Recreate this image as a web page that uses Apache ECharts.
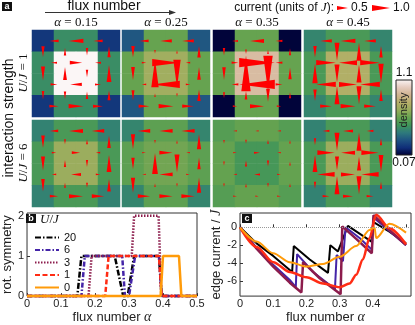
<!DOCTYPE html>
<html>
<head>
<meta charset="utf-8">
<script src="https://cdn.jsdelivr.net/npm/echarts@6/dist/echarts.min.js"></script>
<style>
html, body { margin: 0; padding: 0; background: #fff; }
#main { width: 415px; height: 325px; }
</style>
</head>
<body>
<div id="main"></div>
<script>
// ---- panel a: lattice densities (rows top -> bottom) ----
const alphaLabels = ['0.15', '0.25', '0.35', '0.45'];
const denA015U1 = [[0.2, 0.45, 0.45, 0.2], [0.45, 1.1, 1.1, 0.45], [0.45, 1.1, 1.1, 0.45], [0.2, 0.45, 0.45, 0.2]];
const denA025U1 = [[0.29, 0.585, 0.585, 0.29], [0.585, 0.72, 0.72, 0.585], [0.585, 0.72, 0.72, 0.585], [0.29, 0.585, 0.585, 0.29]];
const denA035U1 = [[0.08, 0.585, 0.585, 0.08], [0.585, 0.93, 0.93, 0.585], [0.585, 0.93, 0.93, 0.585], [0.08, 0.585, 0.585, 0.08]];
const denA045U1 = [[0.42, 0.51, 0.51, 0.42], [0.51, 0.77, 0.77, 0.51], [0.51, 0.77, 0.77, 0.51], [0.42, 0.51, 0.51, 0.42]];
const denA015U6 = [[0.41, 0.51, 0.51, 0.41], [0.51, 0.7, 0.7, 0.51], [0.51, 0.7, 0.7, 0.51], [0.41, 0.51, 0.51, 0.41]];
const denA025U6 = [[0.42, 0.56, 0.56, 0.42], [0.56, 0.61, 0.61, 0.56], [0.56, 0.61, 0.61, 0.56], [0.42, 0.56, 0.56, 0.42]];
const denA035U6 = [[0.54, 0.58, 0.58, 0.54], [0.58, 0.5, 0.5, 0.58], [0.58, 0.5, 0.5, 0.58], [0.54, 0.58, 0.58, 0.54]];
const denA045U6 = [[0.41, 0.51, 0.51, 0.41], [0.51, 0.7, 0.7, 0.51], [0.51, 0.7, 0.7, 0.51], [0.41, 0.51, 0.51, 0.41]];

// ---- panel a: bond currents, h: +right (4 rows x 3), v: +down (3 rows x 4) ----
const hA015U1 = [[-0.45, -0.8, -0.45], [-0.25, 0.65, -0.25], [0.3, -0.6, 0.25], [0.45, 0.8, 0.5]];
const vA015U1 = [[0.55, -0.35, 0.35, -0.55], [0.75, -0.7, 0.35, -0.95], [0.4, 0.35, -0.35, -0.5]];
const hA025U1 = [[-0.45, -0.6, -0.6], [0.15, 1.6, -0.15], [-0.15, -1.6, 0.15], [0.55, 0.8, 0.6]];
const vA025U1 = [[0.6, 0.1, -0.1, -0.6], [0.7, -1.6, 1.6, -0.65], [0.5, -0.1, 0.1, -0.6]];
const hA035U1 = [[-0.25, -0.75, -0.3], [0.3, 2.1, -0.3], [-0.3, -2.1, 0.3], [0.15, 0.75, 0.15]];
const vA035U1 = [[0.35, 0.15, -0.15, -0.3], [0.65, -2.1, 2.1, -0.6], [0.25, -0.4, 0.7, -0.25]];
const hA045U1 = [[-0.6, -0.8, -0.6], [1.1, -1.0, 1.1], [-1.1, 1.0, -1.1], [0.6, 0.8, 0.6]];
const vA045U1 = [[0.6, 1.0, -1.0, -0.6], [-1.1, 1.0, -1.0, 1.1], [0.6, -1.0, 1.0, -0.6]];
const hA015U6 = [[-0.4, -0.75, -0.65], [0.15, 0.4, -0.15], [-0.15, -0.5, 0.15], [0.4, 0.75, 0.65]];
const vA015U6 = [[0.65, 0.2, -0.2, -0.65], [0.75, -0.3, 0.3, -0.95], [0.65, -0.2, 0.2, -0.65]];
const hA025U6 = [[-0.65, -0.7, -0.7], [0.1, 0.7, -0.1], [-0.1, -0.7, 0.1], [0.65, 0.7, 0.7]];
const vA025U6 = [[0.8, 0.1, -0.1, -0.8], [0.6, -1.2, 1.0, -0.6], [0.8, -0.1, 0.1, -0.8]];
const hA035U6 = [[-0.12, -0.08, -0.12], [0.1, 0.25, -0.1], [-0.1, -0.25, 0.1], [0.12, 0.08, 0.12]];
const vA035U6 = [[0.1, 0.12, -0.12, -0.1], [0.12, -0.25, 0.25, -0.12], [0.1, -0.12, 0.12, -0.1]];
const hA045U6 = [[-0.3, -0.5, -0.3], [0.95, -0.75, 0.95], [-0.95, 0.75, -0.95], [0.3, 0.5, 0.3]];
const vA045U6 = [[0.3, 1.0, -1.0, -0.3], [-0.95, 0.75, -0.75, 0.95], [0.3, -1.0, 1.0, -0.3]];

// ---- panel b: rotational symmetry vs flux ----
const uNames = ['20', '6', '3', '1', '0'];
const symU20 = [[0, 0], [0.148, 0], [0.16, 1], [0.258, 1], [0.283, 0], [0.296, 0], [0.315, 1], [0.388, 1], [0.396, 0], [0.5, 0]];
const symU6 = [[0, 0], [0.16, 0], [0.17, 1], [0.28, 1], [0.288, 0], [0.3, 0], [0.318, 1], [0.388, 1], [0.396, 0], [0.5, 0]];
const symU3 = [[0, 0], [0.181, 0], [0.19, 1], [0.308, 1], [0.315, 2], [0.387, 2], [0.395, 0], [0.5, 0]];
const symU1 = [[0, 0], [0.23, 0], [0.24, 1], [0.388, 1], [0.396, 0], [0.5, 0]];
const symU0 = [[0, 0], [0.393, 0], [0.4, 1], [0.447, 1], [0.454, 0], [0.5, 0]];

// ---- panel c: edge current vs flux ----
const curU20 = [[0, 0], [0.05, -1.8], [0.1, -3.2], [0.157, -5.0], [0.162, -2.1], [0.21, -3.6], [0.265, -5.1], [0.272, -2.0], [0.295, -2.7], [0.325, 0.15], [0.36, -0.7], [0.396, -1.6], [0.401, 0.6], [0.45, -0.5], [0.5, -1.8]];
const curU6 = [[0, 0], [0.05, -2.3], [0.1, -4.2], [0.15, -5.9], [0.168, -6.7], [0.172, -3.0], [0.22, -5.0], [0.286, -6.9], [0.291, -3.1], [0.31, -3.8], [0.318, 0.0], [0.36, -1.2], [0.397, -2.5], [0.402, 1.1], [0.45, -0.4], [0.5, -2.0]];
const curU3 = [[0, 0], [0.05, -2.4], [0.1, -4.4], [0.15, -6.2], [0.185, -7.3], [0.19, -3.9], [0.24, -5.7], [0.303, -7.5], [0.308, 0.1], [0.35, -1.3], [0.397, -2.9], [0.402, 1.35], [0.45, -0.3], [0.5, -2.0]];
const curU1 = [[0, 0], [0.05, -2.2], [0.1, -3.9], [0.15, -5.0], [0.2, -5.6], [0.25, -6.3], [0.3, -6.7], [0.33, -6.3], [0.35, -5.3], [0.37, -3.6], [0.39, -1.2], [0.41, 1.4], [0.45, -0.1], [0.5, -1.9]];
const curU0 = [[0, 0], [0.05, -1.6], [0.1, -2.9], [0.15, -3.9], [0.2, -4.4], [0.25, -4.1], [0.3, -3.3], [0.35, -2.1], [0.39, -0.3], [0.405, 0.0], [0.41, -1.2], [0.45, 0.4], [0.5, -0.6]];

const sans = 'Liberation Sans';
const serif = 'Liberation Serif';
const cmap = ['#000033', '#0f2d78', '#1e5282', '#2e7a7c', '#3f955a', '#66a350', '#97ad5c', '#b8b06a', '#d0b492', '#e6ccc0', '#fbf6f6'];
const lineColors = ['#000000', '#4424a8', '#8c1c4c', '#ff2c14', '#ff9b0a'];
const dashes = [[6, 2, 1.5, 2], [5, 2, 1.5, 2], [1.5, 1.5], [5, 2.5], 'solid'];
const curWidths = [2, 2, 2.5, 2.5, 2];
const tri = 'path://M0,0L20,5L0,10Z';

const panelLeft = [32, 122, 213, 304];
const panelTop = [30, 120];
const cells = ['0', '1', '2', '3'];
const panels = [
  { den: denA015U1, h: hA015U1, v: vA015U1 },
  { den: denA025U1, h: hA025U1, v: vA025U1 },
  { den: denA035U1, h: hA035U1, v: vA035U1 },
  { den: denA045U1, h: hA045U1, v: vA045U1 },
  { den: denA015U6, h: hA015U6, v: vA015U6 },
  { den: denA025U6, h: hA025U6, v: vA025U6 },
  { den: denA035U6, h: hA035U6, v: vA035U6 },
  { den: denA045U6, h: hA045U6, v: vA045U6 }
];

function arrow(x, y, m, rot) {
  const a = Math.abs(m);
  return { value: [x, y], symbolSize: [2 + 16 * a, 1 + 4 * a], symbolRotate: rot };
}

const grids = [], xAxes = [], yAxes = [], series = [], heatIdx = [];
panels.forEach((p, i) => {
  const r = Math.floor(i / 4), c = i % 4;
  const g = { left: panelLeft[c], top: panelTop[r], width: 88, height: 87 };
  grids.push(Object.assign({}, g), Object.assign({}, g));
  xAxes.push({ type: 'category', data: cells, gridIndex: 2 * i, show: false });
  yAxes.push({ type: 'category', data: cells, gridIndex: 2 * i, inverse: true, show: false });
  xAxes.push({ type: 'value', min: 0, max: 4, gridIndex: 2 * i + 1, show: false });
  yAxes.push({ type: 'value', min: 0, max: 4, inverse: true, gridIndex: 2 * i + 1, show: false });
  const hd = [];
  p.den.forEach((row, y) => row.forEach((d, x) => hd.push([x, y, d])));
  heatIdx.push(series.length);
  series.push({ type: 'heatmap', xAxisIndex: 2 * i, yAxisIndex: 2 * i, data: hd, silent: true, itemStyle: { borderWidth: 0 } });
  const ad = [];
  p.h.forEach((row, y) => row.forEach((m, x) => ad.push(arrow(x + 1, y + 0.5, m, m > 0 ? 0 : 180))));
  p.v.forEach((row, y) => row.forEach((m, x) => ad.push(arrow(x + 0.5, y + 1, m, m > 0 ? -90 : 90))));
  series.push({ type: 'scatter', xAxisIndex: 2 * i + 1, yAxisIndex: 2 * i + 1, symbol: tri, data: ad, silent: true, z: 5, itemStyle: { color: '#ff0000', opacity: 1 } });
});

// panel b and c grids
grids.push({ left: 25, top: 213, width: 172, height: 89, show: true, borderColor: '#333', borderWidth: 1 });
grids.push({ left: 240, top: 213, width: 171, height: 89, show: true, borderColor: '#333', borderWidth: 1 });
const axisText = { fontFamily: sans, fontSize: 11, color: '#222' };
xAxes.push({
  type: 'value', gridIndex: 16, min: 0, max: 0.5, interval: 0.1,
  axisLine: { show: false }, splitLine: { show: false },
  axisTick: { inside: true, length: 3, lineStyle: { color: '#333' } },
  axisLabel: Object.assign({ margin: 2 }, axisText),
  name: 'flux number {i|α}', nameLocation: 'middle', nameGap: 9,
  nameTextStyle: { fontFamily: sans, fontSize: 13, color: '#222', rich: { i: { fontFamily: serif, fontStyle: 'italic', fontSize: 14 } } }
});
yAxes.push({
  type: 'value', gridIndex: 16, min: 0, max: 2.07,
  axisLine: { show: false }, splitLine: { show: false },
  axisTick: { inside: true, length: 3, customValues: [0, 1, 2], lineStyle: { color: '#333' } },
  axisLabel: Object.assign({ margin: 3, customValues: [0, 1, 2] }, axisText),
  name: 'rot. symmetry', nameLocation: 'middle', nameGap: 10,
  nameTextStyle: { fontFamily: sans, fontSize: 13, color: '#222' }
});
xAxes.push({
  type: 'value', gridIndex: 17, min: 0, max: 0.515,
  axisLine: { show: false }, splitLine: { show: false },
  axisTick: { inside: true, length: 3, customValues: [0, 0.1, 0.2, 0.3, 0.4, 0.5], lineStyle: { color: '#333' } },
  axisLabel: Object.assign({ margin: 2, customValues: [0, 0.1, 0.2, 0.3, 0.4] }, axisText),
  name: 'flux number {i|α}', nameLocation: 'middle', nameGap: 9,
  nameTextStyle: { fontFamily: sans, fontSize: 13, color: '#222', rich: { i: { fontFamily: serif, fontStyle: 'italic', fontSize: 14 } } }
});
yAxes.push({
  type: 'value', gridIndex: 17, min: -7.7, max: 1.6,
  axisLine: { show: false }, splitLine: { show: false },
  axisTick: { inside: true, length: 3, customValues: [-6, -4, -2, 0], lineStyle: { color: '#333' } },
  axisLabel: Object.assign({ margin: 3, customValues: [-6, -4, -2, 0] }, axisText),
  name: 'edge current / {i|J}', nameLocation: 'middle', nameGap: 14,
  nameTextStyle: { fontFamily: sans, fontSize: 13, color: '#222', rich: { i: { fontFamily: serif, fontStyle: 'italic', fontSize: 14 } } }
});

const symData = [symU20, symU6, symU3, symU1, symU0];
const curData = [curU20, curU6, curU3, curU1, curU0];
uNames.forEach((n, k) => {
  series.push({
    type: 'line', name: n, xAxisIndex: 16, yAxisIndex: 16, data: symData[k],
    symbol: 'none', clip: false, silent: true,
    lineStyle: { color: lineColors[k], width: 2.5, type: dashes[k] },
    itemStyle: { color: lineColors[k] }
  });
});
uNames.forEach((n, k) => {
  const s = {
    type: 'line', name: n, xAxisIndex: 17, yAxisIndex: 17, data: curData[k],
    symbol: 'none', silent: true,
    lineStyle: { color: lineColors[k], width: curWidths[k] },
    itemStyle: { color: lineColors[k] }
  };
  if (k >= 3) { s.smooth = 0.3; s.smoothMonotone = 'x'; }
  if (k === 0) {
    s.markLine = {
      silent: true, symbol: ['none', 'none'], label: { show: false },
      lineStyle: { color: '#999', type: 'dotted', width: 1 },
      data: [{ yAxis: 0 }]
    };
  }
  series.push(s);
});

// text / decoration
const g = [];
function box(x, y, t) {
  g.push({ type: 'rect', shape: { x: x, y: y, width: 10, height: 9 }, style: { fill: '#111' } });
  g.push({ type: 'text', x: x + 5, y: y + 4.5, style: { text: t, fill: '#fff', font: 'bold 9px ' + sans, align: 'center', verticalAlign: 'middle', textAlign: 'center', textVerticalAlign: 'middle' } });
}
function txt(x, y, t, font, opt) {
  g.push(Object.assign({
    type: 'text', x: x, y: y,
    style: Object.assign({ text: t, font: font, fill: '#111', align: 'center', verticalAlign: 'middle', textAlign: 'center', textVerticalAlign: 'middle',
      rich: { i: { fontFamily: serif, fontStyle: 'italic', fontSize: 13 } } }, opt && opt.style)
  }, opt && opt.el));
}
box(2, 2, 'a');
box(26, 214, 'b');
box(242, 214, 'c');
txt(104, 6.5, 'flux number', '14px ' + sans);
g.push({ type: 'line', shape: { x1: 45, y1: 12.5, x2: 171, y2: 12.5 }, style: { stroke: '#333', lineWidth: 1.2 } });
g.push({ type: 'polygon', shape: { points: [[176, 12.5], [169, 10], [169, 15]] }, style: { fill: '#333' } });
alphaLabels.forEach((a, c) => {
  txt(panelLeft[c] + 44, 23, '{i|α} = ' + a, '13px ' + serif);
});
txt(334, 8, 'current (units of {i|J}):', '12px ' + sans, { style: { align: 'right', textAlign: 'right' } });
g.push({ type: 'polygon', shape: { points: [[337, 6], [348, 8], [337, 10]] }, style: { fill: '#ff0000' } });
txt(351, 8, '0.5', '12px ' + sans, { style: { align: 'left', textAlign: 'left' } });
g.push({ type: 'polygon', shape: { points: [[372, 5], [390, 8], [372, 11]] }, style: { fill: '#ff0000' } });
txt(393, 8, '1.0', '12px ' + sans, { style: { align: 'left', textAlign: 'left' } });
txt(9, 118, 'interaction strength', '14px ' + sans, { el: { rotation: Math.PI / 2 } });
txt(24, 73, '{i|U}/{i|J} = 1', '13px ' + serif, { el: { rotation: Math.PI / 2 } });
txt(24, 163, '{i|U}/{i|J} = 6', '13px ' + serif, { el: { rotation: Math.PI / 2 } });
// colour bar
g.push({
  type: 'rect', shape: { x: 396, y: 80, width: 16, height: 75 },
  style: {
    stroke: '#222', lineWidth: 1,
    fill: new echarts.graphic.LinearGradient(0, 1, 0, 0, cmap.map((col, k) => ({ offset: k / (cmap.length - 1), color: col })))
  }
});
txt(404, 73, '1.1', '12px ' + sans);
txt(404, 163, '0.07', '12px ' + sans);
txt(404, 110, 'density', '11px ' + sans, { el: { rotation: Math.PI / 2 }, style: { fill: '#222' } });
txt(40, 220, '{i|U}/{i|J}', '13px ' + serif, { style: { align: 'left', textAlign: 'left' } });

const chart = echarts.init(document.getElementById('main'));
chart.setOption({
  animation: false,
  backgroundColor: '#fff',
  grid: grids,
  xAxis: xAxes,
  yAxis: yAxes,
  visualMap: { type: 'continuous', show: false, min: 0.07, max: 1.1, seriesIndex: heatIdx, inRange: { color: cmap } },
  legend: {
    data: uNames, left: 34, top: 232, orient: 'vertical', padding: 0,
    itemWidth: 24, itemHeight: 10, itemGap: 1.5,
    itemStyle: { opacity: 0 },
    textStyle: { fontFamily: sans, fontSize: 11, color: '#111' }
  },
  graphic: g,
  series: series
});
</script>
</body>
</html>
